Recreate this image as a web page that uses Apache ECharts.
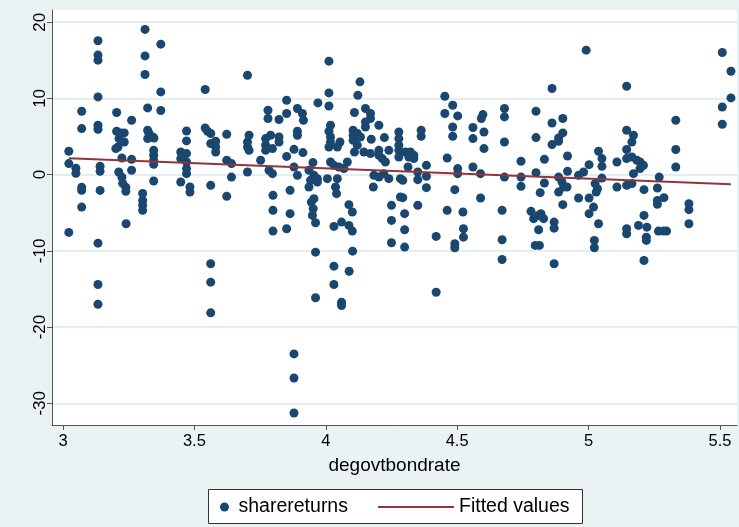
<!DOCTYPE html>
<html>
<head>
<meta charset="utf-8">
<script src="https://cdn.jsdelivr.net/npm/echarts@6/dist/echarts.min.js"></script>
<style>
  html, body { margin: 0; padding: 0; background: #EAF2F3; }
  #chart { width: 739px; height: 527px; }
</style>
</head>
<body>
<div id="chart"></div>
<script>
// Government bond rate (x) and share returns (y), one entry per observation
const bondRate = [
  3.022,3.022,3.049,3.049,3.071,3.071,3.071,3.071,3.071,3.133,3.133,3.133,3.133,3.133,3.133,3.141,3.141,3.141,
  3.204,3.204,3.22,3.233,3.213,3.233,3.209,3.201,3.224,3.212,3.224,3.227,3.239,3.239,3.261,3.261,3.261,
  3.312,3.312,3.312,3.322,3.322,3.327,3.322,3.341,3.346,3.345,3.345,3.345,3.345,3.345,3.303,3.303,3.303,3.303,
  3.372,3.372,3.372,3.133,3.133,3.133,3.022,3.24,
  3.702,3.541,3.78,3.78,3.822,3.47,3.47,3.448,3.47,3.448,3.47,3.47,3.47,3.541,3.55,3.562,3.562,3.581,3.581,3.581,
  3.623,3.623,3.641,3.641,3.708,3.702,3.702,3.708,3.702,3.752,3.771,3.771,3.771,3.79,3.797,3.822,3.822,3.784,3.797,
  3.448,3.483,3.483,3.562,3.623,3.799,3.799,3.799,3.562,3.562,3.562,
  4.012,4.13,4.122,4.012,4.012,3.97,3.851,3.851,3.851,3.892,3.911,3.915,3.892,3.892,4.018,4.012,4.018,4.018,4.012,
  4.054,4.044,3.879,3.913,3.879,3.892,3.951,3.936,3.955,3.968,3.942,3.936,3.968,3.955,3.945,3.952,4.006,4.018,4.031,
  4.05,4.069,4.082,4.044,4.037,4.041,3.864,4.109,4.151,4.17,4.17,4.151,4.151,4.202,4.104,4.104,4.104,4.12,4.132,
  4.12,4.109,4.173,4.223,4.145,4.17,4.202,4.202,4.215,4.227,4.24,4.278,4.278,4.183,4.202,4.221,4.24,4.181,4.088,
  4.101,4.25,4.284,4.284,3.864,3.851,3.949,3.961,4.031,4.06,4.088,4.101,3.961,4.102,4.031,4.089,4.031,3.961,4.06,
  4.06,3.879,3.879,3.879,4.25,4.25,
  4.453,4.483,4.453,4.502,4.598,4.592,4.68,4.68,4.278,4.278,4.278,4.303,4.322,4.335,4.335,4.316,4.363,4.363,4.483,
  4.483,4.56,4.56,4.602,4.602,4.68,4.462,4.313,4.383,4.293,4.35,4.35,4.383,4.383,4.502,4.502,4.56,4.589,4.68,4.491,
  4.293,4.35,4.589,4.462,4.522,4.671,4.3,4.3,4.3,4.42,4.491,4.491,4.524,4.524,4.671,4.671,4.42,
  4.991,4.861,5.145,4.8,4.861,4.902,4.8,4.861,4.886,4.886,4.902,4.92,4.832,4.743,4.743,4.743,4.8,4.832,4.816,4.886,
  4.899,4.905,4.918,4.886,4.92,4.962,4.981,5.002,5.038,5.051,5.051,5.051,5.025,5.034,5.029,5.108,5.108,5.145,5.145,
  5.145,5.145,4.962,5.002,4.902,4.781,4.819,5.019,5.002,4.791,4.81,4.829,4.81,4.797,4.813,4.869,4.869,4.869,5.038,
  5.022,5.022,5.145,5.145,
  5.509,5.542,5.542,5.509,5.509,5.332,5.332,5.332,5.171,5.165,5.165,5.184,5.196,5.209,5.196,5.171,5.165,5.269,5.262,
  5.211,5.262,5.262,5.287,5.382,5.382,5.211,5.19,5.222,5.22,5.22,5.266,5.285,5.297,5.382,5.211
];
const shareReturns = [
  3.06,1.45,0.83,0.17,8.32,6.04,-1.67,-2.06,-4.26,17.56,15.68,15.02,10.2,6.48,5.95,1.09,0.43,-2.07,
  8.15,5.69,5.47,5.47,4.73,4.28,3.63,3.42,2.18,0.34,-0.35,-1.14,-1.67,-2.19,7.14,2.01,0.57,
  19.05,15.58,13.14,8.75,5.82,5.39,4.73,4.94,4.81,3.19,2.54,1.88,1.35,-0.84,-2.46,-3.38,-4.03,-4.69,
  17.12,10.85,8.41,-8.99,-14.42,-17.0,-7.58,-6.44,
  13.04,11.17,8.45,7.36,7.23,5.73,4.42,2.97,2.76,2.1,1.66,0.79,0.13,6.12,5.69,5.39,4.07,4.38,3.63,2.97,
  5.3,1.88,1.45,-0.32,5.16,4.28,3.63,3.19,0.34,1.88,4.73,3.85,3.19,5.16,3.42,4.94,4.28,0.57,0.13,
  -0.97,-1.63,-2.29,-1.41,-2.85,-2.72,-4.69,-7.41,-11.7,-14.11,-18.13,
  14.89,12.17,10.42,10.72,9.01,9.41,9.76,8.02,2.39,8.67,8.02,7.14,5.69,5.16,6.48,5.69,4.94,4.28,3.63,
  4.28,3.63,3.32,2.89,1.0,-0.09,1.58,0.57,-0.09,-0.53,-0.75,-1.63,-0.97,-3.15,-3.6,-4.47,-0.53,1.66,1.22,
  1.0,0.79,1.66,-0.53,-1.63,-2.5,-2.06,8.15,8.67,8.02,7.36,6.91,6.25,6.48,5.82,5.16,4.51,5.39,4.94,
  3.85,2.97,4.64,4.86,2.97,2.76,3.19,2.54,2.1,1.66,3.19,5.6,4.73,-0.09,-0.32,0.13,-0.53,-1.63,-3.94,
  -4.91,-4.03,-0.53,-2.94,-5.12,-7.1,-5.35,-6.31,-6.79,-6.23,-6.66,-7.41,-10.17,-10.04,-12.01,-12.67,-14.42,-16.16,-16.74,
  -17.17,-23.52,-26.68,-31.27,-6.01,-8.94,
  10.29,9.11,8.02,7.7,7.88,7.36,8.67,7.57,3.85,3.19,2.31,2.97,2.97,2.54,2.1,2.31,5.82,5.03,6.25,
  5.03,6.18,4.73,5.6,3.42,4.28,2.18,1.0,1.22,-0.75,0.34,-0.66,-0.22,-1.71,0.79,0.13,1.0,0.13,-0.32,-1.97,
  -3.02,-4.03,-3.07,-4.69,-4.91,-4.69,-5.12,-7.23,-9.51,-8.11,-9.07,-9.59,-7.1,-8.2,-8.54,-11.13,-15.43,
  16.33,11.3,11.6,8.32,6.78,7.36,4.86,3.94,4.81,4.38,5.47,2.44,2.01,1.75,-0.32,-1.54,0.26,-1.1,-2.37,-0.32,
  -0.97,-1.63,-1.63,-2.29,0.43,-0.09,0.34,1.31,3.06,2.1,1.09,-0.45,-1.18,-1.84,-2.29,1.66,-1.63,5.82,3.29,
  2.1,-1.41,-3.07,-3.07,-3.94,-4.82,-5.12,-4.26,-5.12,-5.78,-5.35,-5.78,-7.23,-9.29,-9.29,-6.23,-7.02,-11.7,-6.44,
  -8.63,-9.59,-7.1,-7.75,
  16.03,13.57,10.07,8.88,6.61,7.14,3.29,1.0,5.16,4.28,2.31,1.88,1.66,1.22,0.79,0.13,-1.18,-0.32,-1.76,
  -1.97,-3.38,-3.9,-3.02,-3.81,-4.6,-5.35,-6.66,-6.89,-8.2,-8.63,-7.41,-7.41,-7.41,-6.44,-11.26
];

// Linear fit of share returns on the bond rate, evaluated at the ends of the data range
const fitRate = [3.022, 5.542];
const fitValues = [2.15, -1.27];

// Axis tick labels
const xTicks = [3, 3.5, 4, 4.5, 5, 5.5];
const yTicks = [-30, -20, -10, 0, 10, 20];

const points = bondRate.map((x, i) => [x, shareReturns[i]]);
const fitLine = fitRate.map((x, i) => [x, fitValues[i]]);

const chart = echarts.init(document.getElementById('chart'), null, { renderer: 'canvas' });
const font = 'Liberation Sans, Arial, Helvetica, sans-serif';

chart.setOption({
  backgroundColor: '#EAF2F3',
  animation: false,
  textStyle: { fontFamily: font },
  grid: {
    left: 52, right: 2, top: 10, bottom: 102,
    show: true, backgroundColor: '#ffffff', borderWidth: 0
  },
  xAxis: {
    type: 'value',
    min: 2.958, max: 5.565,
    name: 'degovtbondrate',
    nameLocation: 'middle',
    nameGap: 31,
    nameTextStyle: { fontSize: 19, color: '#000', fontFamily: font },
    axisLine: { show: true, onZero: false, lineStyle: { color: '#555', width: 1 } },
    axisTick: { show: true, length: 5, customValues: xTicks, lineStyle: { color: '#555' } },
    axisLabel: { customValues: xTicks, fontSize: 16.5, color: '#000', margin: 8, fontFamily: font },
    splitLine: { show: false }
  },
  yAxis: {
    type: 'value',
    min: -32.85, max: 21.6,
    axisLine: { show: true, onZero: false, lineStyle: { color: '#555', width: 1 } },
    axisTick: { show: true, length: 5, customValues: yTicks, lineStyle: { color: '#555' } },
    axisLabel: { customValues: yTicks, rotate: 90, fontSize: 17, color: '#000', margin: 3, fontFamily: font },
    splitLine: { show: true, lineStyle: { color: '#E4EEF0', width: 2 } }
  },
  legend: [
    {
      data: ['sharereturns'],
      left: 220, top: 497, padding: 0, z: 5,
      icon: 'circle', itemWidth: 18, itemHeight: 9,
      textStyle: { fontSize: 19.5, color: '#000', fontFamily: font }
    },
    {
      data: [{ name: 'Fitted values', icon: 'rect' }],
      left: 378, top: 497, padding: 0, z: 5,
      itemWidth: 76, itemHeight: 2,
      textStyle: { fontSize: 19.5, color: '#000', fontFamily: font }
    }
  ],
  graphic: [{
    type: 'rect', z: 0,
    shape: { x: 208.5, y: 489.5, width: 374, height: 34 },
    style: { fill: '#ffffff', stroke: '#333333', lineWidth: 1 }
  }],
  series: [
    {
      name: 'sharereturns',
      type: 'scatter',
      data: points,
      symbol: 'circle',
      symbolSize: 9,
      itemStyle: { color: '#1A476F', opacity: 1 },
      z: 3
    },
    {
      name: 'Fitted values',
      type: 'line',
      data: fitLine,
      symbol: 'none',
      showSymbol: false,
      lineStyle: { color: '#90353B', width: 2 },
      itemStyle: { color: '#90353B' },
      z: 4
    }
  ]
});
</script>
</body>
</html>
